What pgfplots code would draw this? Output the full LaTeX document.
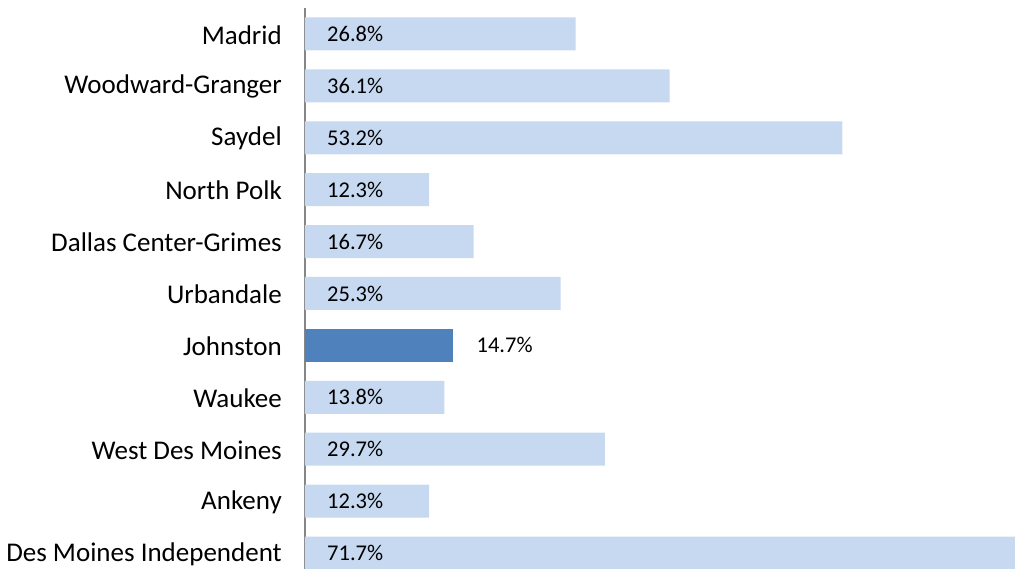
\documentclass[border=0pt]{standalone}
\usepackage{pgfplots}
\pgfplotsset{compat=1.18}
\usepackage{fontspec}
\setmainfont{Carlito}
\definecolor{lightbar}{RGB}{198,217,240}
\definecolor{darkbar}{RGB}{79,129,189}
\definecolor{axisgray}{RGB}{134,134,134}
\begin{document}
\begin{tikzpicture}[x=1pt,y=1pt]
\useasboundingbox (0,0) rectangle (1015,569);
\clip (0,0) rectangle (1015,569);
\begin{axis}[
  at={(305pt,-10pt)}, anchor=south west,
  scale only axis, width=710pt, height=571pt,
  xmin=0, xmax=70.3, ymin=-0.5, ymax=10.5,
  axis x line=none, axis y line*=left,
  y axis line style={draw=axisgray, line width=2pt},
  ytick={0,...,10},
  yticklabels={Des Moines Independent, Ankeny, West Des Moines, Waukee, Johnston, Urbandale, Dallas Center-Grimes, North Polk, Saydel, Woodward-Granger, Madrid},
  major tick length=0pt,
  y tick label style={inner sep=0pt, xshift=-23pt, yshift=-1pt, anchor=east, font=\fontsize{27}{31}\selectfont},
]
\addplot[xbar, bar width=33pt, bar shift=0pt, fill=lightbar, draw=none]
  coordinates {(71.7,0) (12.3,1) (29.7,2) (13.8,3) (25.3,5) (16.7,6) (12.3,7) (53.2,8) (36.1,9) (26.8,10)};
\addplot[xbar, bar width=33pt, bar shift=0pt, fill=darkbar, draw=none]
  coordinates {(14.7,4)};
\addplot[only marks, mark=none, nodes near coords, point meta=explicit symbolic,
  nodes near coords style={anchor=west, inner sep=0pt, xshift=22pt, text=black, font=\fontsize{22.5}{26}\selectfont}]
  coordinates {(0,0) [71.7\%] (0,1) [12.3\%] (0,2) [29.7\%] (0,3) [13.8\%] (0,5) [25.3\%] (0,6) [16.7\%] (0,7) [12.3\%] (0,8) [53.2\%] (0,9) [36.1\%] (0,10) [26.8\%]};
\addplot[only marks, mark=none, nodes near coords, point meta=explicit symbolic,
  nodes near coords style={anchor=west, inner sep=0pt, xshift=23pt, text=black, font=\fontsize{22.5}{26}\selectfont}]
  coordinates {(14.7,4) [14.7\%]};
\end{axis}
\end{tikzpicture}
\end{document}
